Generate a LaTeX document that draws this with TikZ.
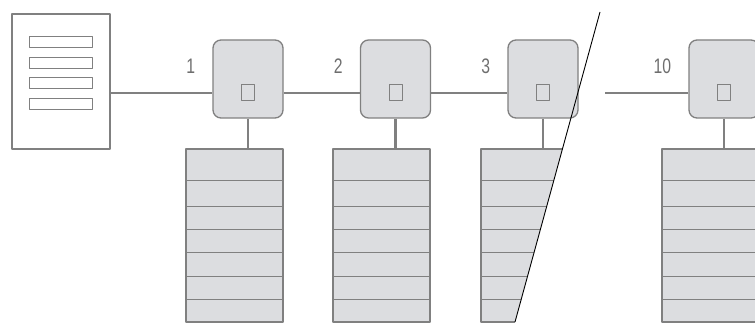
\documentclass[tikz,border=0pt]{standalone}
\usepackage{fontspec}
\usepackage{tikz}
\usetikzlibrary{positioning}
\newfontfamily\numfont[FakeStretch=0.75]{Liberation Sans}
\definecolor{boxgray}{RGB}{220,221,224}
\definecolor{edgegray}{RGB}{128,128,128}
\definecolor{textgray}{RGB}{110,110,110}
\tikzset{
  doc/.style={draw=edgegray,fill=white,line width=1.3pt,minimum width=98pt,minimum height=135pt,inner sep=0pt},
  docbar/.style={draw=edgegray,fill=white,line width=1pt,minimum width=63pt,minimum height=11pt,inner sep=0pt},
  device/.style={draw=edgegray,fill=boxgray,line width=1.3pt,rounded corners=8pt,minimum width=70pt,minimum height=78pt,inner sep=0pt},
  led/.style={draw=edgegray,fill=boxgray,line width=1pt,minimum width=13pt,minimum height=16pt,inner sep=0pt},
  stackbox/.style={draw=edgegray,fill=boxgray,line width=1.3pt,minimum width=97pt,minimum height=173pt,inner sep=0pt},
  link/.style={draw=edgegray,line width=2.3pt},
  rowline/.style={draw=edgegray,line width=1.3pt},
  numlabel/.style={text=textgray,font=\numfont\fontsize{21}{21}\selectfont,inner sep=0pt,anchor=east}
}
\begin{document}
\begin{tikzpicture}[line cap=butt,line join=round,x=1pt,y=-1pt]
\useasboundingbox (0,0) rectangle (755,323);
\clip (0,0) rectangle (755,323);
% document with its lines
\node[doc] (doc) at (61,81.5) {};
\foreach \i/\y in {1/42.5,2/63,3/83.5,4/104}
  \node[docbar] (bar\i) at (60.5,\y) {};
% devices with their stacks
\foreach \n/\x in {1/248,2/395.5,3/543,10/724} {
  \node[device] (dev\n) at (\x,79) {};
  \node[led] (led\n) at (\x,93) {};
  \node[numlabel] (num\n) at ([xshift=-17pt,yshift=13pt]dev\n.west) {\n};
}
\foreach \n/\x in {1/234.5,2/381.5,10/710.5} {
  \node[stackbox] (stack\n) at (\x,235.5) {};
  \foreach \d in {32,58,81,104,128,151}
    \draw[rowline] ([yshift=-\d pt]stack\n.north west) -- ([yshift=-\d pt]stack\n.north east);
}
% the cut stack
\begin{scope}
\clip (470,0) -- (603.3,0) -- (512,333) -- (470,333) -- cycle;
\node[stackbox] (stack3) at (529.5,235.5) {};
\foreach \d in {32,58,81,104,128,151}
  \draw[rowline] ([yshift=-\d pt]stack3.north west) -- ([yshift=-\d pt]stack3.north east);
\end{scope}
% links
\draw[link] (doc.east |- led1) -- (dev1.west |- led1);
\draw[link] (dev1.east |- led1) -- (dev2.west |- led2);
\draw[link] (dev2.east |- led2) -- (dev3.west |- led3);
\coordinate (gap) at (605,93);
\draw[link] (gap) -- (dev10.west |- led10);
\foreach \n in {1,2,3,10}
  \draw[link] (dev\n.south) -- (dev\n.south |- stack\n.north);
% break mark
\coordinate (cutT) at (600,12);
\coordinate (cutB) at (515,322);
\draw[black,line width=0.9pt] (cutT) -- (cutB);
\end{tikzpicture}
\end{document}
